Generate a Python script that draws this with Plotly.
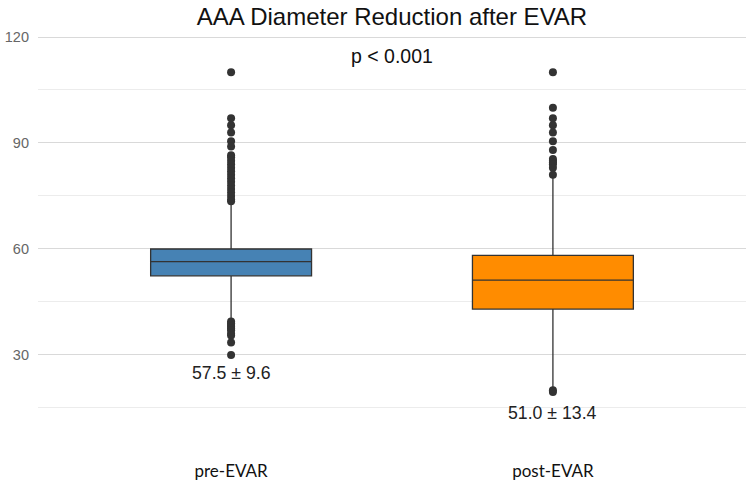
import plotly.graph_objects as go

categories = ["pre-EVAR", "post-EVAR"]
q1 = [52.4, 43.0]
median = [56.4, 51.2]
q3 = [60.0, 58.2]
lower_fence = [40.5, 20.5]
upper_fence = [72.8, 80.5]
box_colors = ["#4682B4", "#FF8C00"]

pre_outliers = [110, 97, 95, 93, 90.5, 89, 86.5, 86, 85, 84, 83, 82, 81, 80, 79,
                78, 77, 76, 75, 74, 73.5,
                39.5, 39, 38.5, 38, 37.5, 37, 36, 35.5, 33.5, 30]
post_outliers = [110, 100, 97, 95, 93, 90.5, 88, 85.5, 85, 84.5, 84, 83, 81,
                 20, 19.5]
outliers = [pre_outliers, post_outliers]

summary_labels = ["57.5 ± 9.6", "51.0 ± 13.4"]
summary_y = [24.9, 13.7]
p_label = "p < 0.001"
p_y = 114.6

fig = go.Figure()
for i, cat in enumerate(categories):
    fig.add_trace(go.Box(
        x=[cat], q1=[q1[i]], median=[median[i]], q3=[q3[i]],
        lowerfence=[lower_fence[i]], upperfence=[upper_fence[i]],
        fillcolor=box_colors[i], line=dict(color="#333333", width=1.3),
        whiskerwidth=0, width=0.5, boxpoints=False, showlegend=False, hoverinfo="skip",
    ))
    fig.add_trace(go.Scatter(
        x=[cat] * len(outliers[i]), y=outliers[i], mode="markers",
        marker=dict(color="#333333", size=8), showlegend=False,
    ))

for i, cat in enumerate(categories):
    fig.add_annotation(x=cat, y=summary_y[i], xref="x", yref="y", text=summary_labels[i],
                       showarrow=False, font=dict(family="Liberation Sans", size=17.7, color="#222222"))
fig.add_annotation(x=0.5, y=p_y, xref="x", yref="y", text=p_label, showarrow=False,
                   font=dict(family="Liberation Sans", size=19.5, color="#111111"))

fig.update_layout(
    width=751, height=488,
    margin=dict(l=38, r=5, t=30, b=38),
    paper_bgcolor="white", plot_bgcolor="white",
    title=dict(text="AAA Diameter Reduction after EVAR", x=0.5, xref="paper",
               y=1 - 17 / 488, yref="container", yanchor="middle",
               font=dict(family="Liberation Sans", size=24, color="#111111")),
    xaxis=dict(type="category", categoryorder="array", categoryarray=categories,
               range=[-0.6, 1.6], showgrid=False, zeroline=False, showline=False,
               ticks="outside", ticklen=6, tickcolor="rgba(0,0,0,0)",
               tickfont=dict(family="Lato", size=17, color="#111111")),
    yaxis=dict(range=[3.11, 121.98], tickvals=[30, 60, 90, 120], showgrid=True,
               gridcolor="#d9d9d9", gridwidth=1.4, zeroline=False, showline=False,
               ticklabelstandoff=8,
               tickfont=dict(family="Liberation Sans", size=14.5, color="#666666"),
               minor=dict(tickvals=[15, 45, 75, 105], showgrid=True,
                          gridcolor="#ececec", gridwidth=1.2)),
)

fig.write_html("out.html")
